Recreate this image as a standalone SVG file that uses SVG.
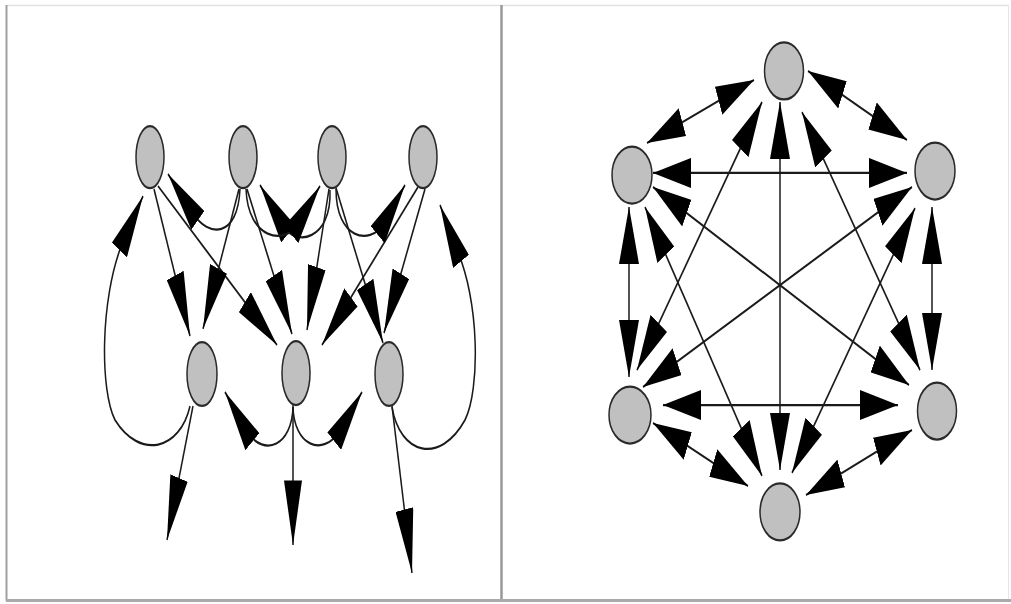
<svg xmlns="http://www.w3.org/2000/svg" width="1011" height="604" viewBox="0 0 1011 604">
<defs>
<style>
.node{fill:#c0c0c0;stroke:#2a2a2a;stroke-width:1.5}
.edge{fill:none;stroke:#1a1a1a;stroke-width:1.5}
.l{marker-end:url(#ahL)}
.r{marker-start:url(#ahR);marker-end:url(#ahR)}
</style>
<marker id="ahL" markerUnits="userSpaceOnUse" viewBox="0 0 43 18" refX="43" refY="9" markerWidth="43" markerHeight="18" orient="auto"><path d="M0,0 L43,9 L0,18 z" fill="#000"/></marker>
<marker id="ahR" markerUnits="userSpaceOnUse" viewBox="0 0 38 20" refX="38" refY="10" markerWidth="38" markerHeight="20" orient="auto-start-reverse"><path d="M0,0 L38,10 L0,20 z" fill="#000"/></marker>
</defs>
<rect x="0" y="0" width="1011" height="604" fill="#fff"/>
<g id="frame" fill="none">
<line x1="7" y1="5.5" x2="1009" y2="5.5" stroke="#e2e2e2" stroke-width="1.5"/>
<line x1="6.5" y1="5" x2="6.5" y2="601" stroke="#a0a0a0" stroke-width="2"/>
<line x1="501.5" y1="5" x2="501.5" y2="601" stroke="#999" stroke-width="2.5"/>
<line x1="1008.5" y1="6" x2="1008.5" y2="600" stroke="#e6e6e6" stroke-width="1"/>
<line x1="6" y1="600.5" x2="1011" y2="600.5" stroke="#aaa" stroke-width="3"/>
</g>
<g id="left-panel" transform="matrix(1 0 0 1.5 0 0)">
<g id="connectors-left">
<path class="edge l" d="M154,126 L190,224"/>
<path class="edge l" d="M158,124 L277,230"/>
<path class="edge l" d="M239,126 L203,219.3"/>
<path class="edge l" d="M247,126 L292,222.7"/>
<path class="edge l" d="M329,126 L307,220"/>
<path class="edge l" d="M336,125.3 L383,228.7"/>
<path class="edge l" d="M418,124.7 L322,230"/>
<path class="edge l" d="M425,126 L384,222"/>
<path class="edge l" d="M193,270.7 L167,360"/>
<path class="edge l" d="M293,270 L293,363.3"/>
<path class="edge l" d="M392,270.7 L412,382"/>
<path class="edge l" d="M293,271.3 C292,296.7 265,305.3 247,288 L225,261.3"/>
<path class="edge l" d="M293,271.3 C294,296.7 322,305.3 340,287.3 L362,261.3"/>
<path class="edge l" d="M190,270.7 C180,300 140,306.7 115,280 C100,260 100,200 122,162.7 L143,130.7"/>
<path class="edge l" d="M392,271.3 C400,303.3 440,310 465,280 C480,260 480,200 456,165.3 L440,136.7"/>
<path class="edge l" d="M240,126 C238,158.7 208,158.7 193,142 L168,116"/>
<path class="edge l" d="M330,126.7 C332,160 295,165.3 283,150 L260,123.3"/>
<path class="edge l" d="M246,126 C248,160 285,163.3 297,150 L320,124"/>
<path class="edge l" d="M336,126 C336,160 370,163.3 383,150 L405,123.3"/>
</g>
<g id="a1"><ellipse class="node" cx="150" cy="104.7" rx="14" ry="20.7"/></g>
<g id="a2"><ellipse class="node" cx="243" cy="104.7" rx="14" ry="20.7"/></g>
<g id="a3"><ellipse class="node" cx="332" cy="104.7" rx="14" ry="20.7"/></g>
<g id="a4"><ellipse class="node" cx="423" cy="104.7" rx="14" ry="20.7"/></g>
<g id="b1"><ellipse class="node" cx="202" cy="249.3" rx="15" ry="21.3"/></g>
<g id="b2"><ellipse class="node" cx="296" cy="248.7" rx="14" ry="21.3"/></g>
<g id="b3"><ellipse class="node" cx="389" cy="249.3" rx="14" ry="21.3"/></g>
</g>
<g id="right-panel" transform="matrix(1 0 0 1.5 0 0)">
<g id="connectors-right">
<path class="edge r" d="M754,53.3 L647,95.3"/>
<path class="edge r" d="M808,47.3 L907,93.3"/>
<path class="edge r" d="M653,115.3 L907,115.3"/>
<path class="edge r" d="M780,68 L780,313.3"/>
<path class="edge r" d="M762,68 L637,246.7"/>
<path class="edge r" d="M802,74.7 L920,246.7"/>
<path class="edge r" d="M629,138 L629,251.3"/>
<path class="edge r" d="M932,138 L932,246.7"/>
<path class="edge r" d="M653,124.7 L909,256.7"/>
<path class="edge r" d="M645,138 L762,317.3"/>
<path class="edge r" d="M912,124.7 L643,258"/>
<path class="edge r" d="M915,138.7 L792,315.3"/>
<path class="edge r" d="M663,270 L898,270"/>
<path class="edge r" d="M653,282 L748,324"/>
<path class="edge r" d="M912,286.7 L806,330"/>
</g>
<g id="t"><ellipse class="node" cx="784" cy="47.3" rx="19.5" ry="19"/></g>
<g id="ul"><ellipse class="node" cx="632" cy="116.7" rx="20" ry="19"/></g>
<g id="ur"><ellipse class="node" cx="935" cy="114" rx="20" ry="19"/></g>
<g id="ll"><ellipse class="node" cx="630" cy="276.7" rx="21" ry="19"/></g>
<g id="lr"><ellipse class="node" cx="937" cy="274" rx="19.5" ry="19"/></g>
<g id="bt"><ellipse class="node" cx="780" cy="341.3" rx="20" ry="19"/></g>
</g>
</svg>
